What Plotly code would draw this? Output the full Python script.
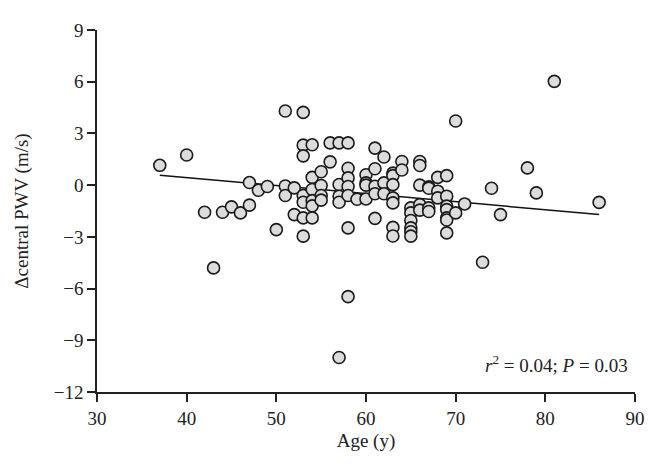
import plotly.graph_objects as go

age = [37, 40, 42, 43, 44, 45, 46, 47, 47, 48, 49, 50,
       51, 51, 51, 52, 52,
       53, 53, 53, 53, 53, 53, 53,
       54, 54, 54, 54, 54, 54,
       55, 55, 55, 55,
       56, 56,
       57, 57, 57, 57, 57,
       58, 58, 58, 58, 58, 58, 58,
       59,
       60, 60, 60, 60,
       61, 61, 61, 61, 61,
       62, 62, 62,
       63, 63, 63, 63, 63, 63, 63,
       64, 64,
       65, 65, 65, 65, 65, 65,
       66, 66, 66, 66, 66,
       67, 67, 67, 67,
       68, 68, 68,
       69, 69, 69, 69, 69, 69, 69,
       70, 70, 71, 73, 74, 75, 78, 79, 81, 86]
delta_pwv = [1.15, 1.75, -1.57, -4.8, -1.57, -1.26, -1.61, 0.15, -1.16, -0.3, -0.08, -2.58,
             4.3, -0.05, -0.6, -0.16, -1.71,
             4.22, 2.32, 1.7, -0.6, -0.99, -1.9, -2.96,
             2.34, 0.45, -0.25, -0.9, -1.2, -1.9,
             0.78, -0.02, -0.6, -0.87,
             2.45, 1.35,
             2.45, 0.04, -0.64, -0.99, -10.0,
             2.45, 0.98, 0.42, -0.08, -0.6, -2.48, -6.47,
             -0.82,
             0.6, 0.13, 0.0, -0.8,
             2.15, 0.95, -0.06, -0.5, -1.93,
             1.63, 0.13, -0.5,
             0.7, 0.55, 0.03, -0.74, -1.03, -2.45, -2.95,
             1.37, 0.88,
             -1.32, -1.61, -2.05, -2.48, -2.7, -2.96,
             1.37, 1.14, 0.0, -1.13, -1.45,
             -0.1, -0.18, -1.32, -1.53,
             0.45, -0.35, -0.74,
             0.55, -0.64, -1.22, -1.42, -1.9, -2.02, -2.77,
             3.72, -1.61, -1.09, -4.47, -0.18, -1.71, 1.0, -0.45, 6.02, -1.0]

fit_age = [37, 86]
fit_pwv = [0.58, -1.71]

x_ticks = [30, 40, 50, 60, 70, 80, 90]
y_ticks = [-12, -9, -6, -3, 0, 3, 6, 9]

FONT = "Liberation Serif, Times New Roman, serif"

fig = go.Figure()
fig.add_trace(go.Scatter(x=fit_age, y=fit_pwv, mode="lines",
                         line=dict(color="#111111", width=1.5),
                         showlegend=False, hoverinfo="skip"))
fig.add_trace(go.Scatter(x=age, y=delta_pwv, mode="markers",
                         marker=dict(size=12, color="#dcdcdc",
                                     line=dict(color="#1a1a1a", width=1.6)),
                         showlegend=False))

axis_common = dict(showgrid=False, zeroline=False, showline=True,
                   linecolor="#222222", linewidth=1.5, ticks="outside",
                   ticklen=8, tickwidth=1.5, tickcolor="#222222",
                   tickfont=dict(family=FONT, size=19, color="#222222"),
                   mirror=False)

fig.update_layout(
    width=656, height=468,
    margin=dict(l=89, r=29, t=22, b=84),
    paper_bgcolor="white", plot_bgcolor="white",
    font=dict(family=FONT, color="#222222"),
    xaxis=dict(range=[30, 90], tickvals=x_ticks, **axis_common,
               title=dict(text="Age (y)", font=dict(family=FONT, size=19), standoff=6)),
    yaxis=dict(range=[-12, 9], tickvals=y_ticks, **axis_common,
               title=dict(text="Δcentral PWV (m/s)", font=dict(family=FONT, size=19), standoff=20)),
    annotations=[dict(text="<i>r</i><sup>2</sup> = 0.04; <i>P</i> = 0.03",
                      xref="paper", yref="paper", x=0.99, y=0.04,
                      xanchor="right", yanchor="bottom", showarrow=False,
                      font=dict(family=FONT, size=19, color="#222222"))],
)

fig.write_html("out.html")
